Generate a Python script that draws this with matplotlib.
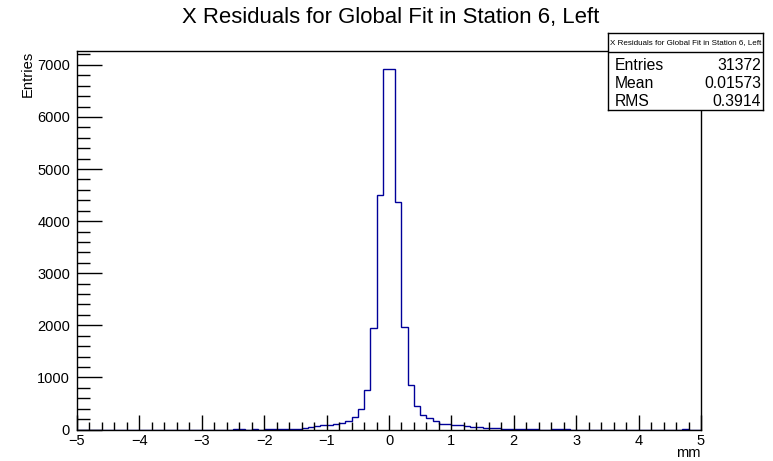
import numpy as np
import matplotlib
matplotlib.use("Agg")
import matplotlib.pyplot as plt
from matplotlib.ticker import MultipleLocator

plt.rcParams['font.family'] = ['Liberation Sans', 'DejaVu Sans']

# histogram: 100 bins from -5 to 5 mm
x_lo, x_hi, nbins = -5.0, 5.0, 100
counts = [
    0, 0, 0, 0, 0, 0, 0, 0, 0, 0,          # -5.0 .. -4.1
    0, 0, 0, 0, 0, 0, 0, 0, 0, 0,          # -4.0 .. -3.1
    0, 0, 0, 0, 0, 8, 8, 0, 6, 0,          # -3.0 .. -2.1
    10, 12, 12, 14, 15, 18, 22, 55, 65, 80,  # -2.0 .. -1.1
    95, 110, 125, 165, 240, 385, 765, 1950, 4500, 6920,  # -1.0 .. -0.1
    6920, 4370, 1970, 860, 460, 285, 220, 160, 115, 100,  # 0.0 .. 0.9
    90, 80, 70, 55, 45, 25, 22, 20, 18, 16,  # 1.0 .. 1.9
    15, 14, 12, 10, 0, 0, 8, 6, 8, 0,        # 2.0 .. 2.9
    0, 0, 0, 0, 0, 0, 0, 0, 0, 0,            # 3.0 .. 3.9
    0, 0, 0, 0, 0, 0, 0, 6, 0, 0,            # 4.0 .. 4.9
]

title = "X Residuals for Global Fit in Station 6, Left"
stats_names = ["Entries", "Mean", "RMS"]
stats_values = ["31372", "0.01573", "0.3914"]

W, H = 773, 461
fig = plt.figure(figsize=(W / 100, H / 100), dpi=100)
ax = fig.add_axes([77 / W, 1 - 429.5 / H, (701 - 77) / W, (429.5 - 51) / H])

edges = np.linspace(x_lo, x_hi, nbins + 1)
ax.stairs(counts, edges, color="#000099", linewidth=1.0, baseline=0)

ax.set_xlim(x_lo, x_hi)
ax.set_ylim(0, max(counts) * 1.05)

ax.xaxis.set_major_locator(MultipleLocator(1))
ax.xaxis.set_minor_locator(MultipleLocator(0.2))
ax.yaxis.set_major_locator(MultipleLocator(1000))
ax.yaxis.set_minor_locator(MultipleLocator(200))
ax.tick_params(axis="x", which="major", direction="in", length=11, width=1,
               labelsize=10.5, pad=3.5, top=False)
ax.tick_params(axis="x", which="minor", direction="in", length=5.5, width=1, top=False)
ax.tick_params(axis="y", which="major", direction="in", length=18, width=1,
               labelsize=10.5, pad=5, right=False)
ax.tick_params(axis="y", which="minor", direction="in", length=9, width=1, right=False)
ax.xaxis.set_major_formatter(plt.FuncFormatter(lambda v, p: f"{v:g}".replace("-", "\u2212")))

for s in ax.spines.values():
    s.set_linewidth(1)

fig.text(701 / W, 1 - 453 / H, "mm", ha="right", va="center", fontsize=10.5)
fig.text(28 / W, 1 - 51 / H, "Entries", ha="center", va="top", rotation=90, fontsize=10.6)
fig.text(391 / W, 1 - 18 / H, title, ha="center", va="center", fontsize=15.9)

# stats box
bx0, bx1, by0, by1, bsep = 608, 763, 33, 110, 52
sax = fig.add_axes([bx0 / W, 1 - by1 / H, (bx1 - bx0) / W, (by1 - by0) / H])
sax.set_xlim(bx0, bx1)
sax.set_ylim(by1, by0)
sax.set_xticks([])
sax.set_yticks([])
for s in sax.spines.values():
    s.set_linewidth(1)
sax.axhline(bsep, color="black", linewidth=1)
sax.text((bx0 + bx1) / 2, (by0 + bsep) / 2, title, ha="center", va="center", fontsize=5.8)
row_y = [65, 83.5, 101.5]
for name, val, yy in zip(stats_names, stats_values, row_y):
    sax.text(615, yy, name, ha="left", va="center", fontsize=11.3)
    sax.text(761, yy, val, ha="right", va="center", fontsize=11.3)

fig.savefig("out.png", dpi=100)
